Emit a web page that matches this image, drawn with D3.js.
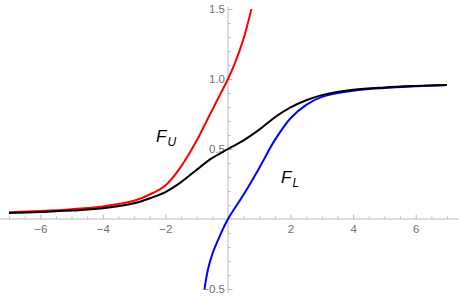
<!DOCTYPE html>
<html>
<head>
<meta charset="utf-8">
<script src="https://cdn.jsdelivr.net/npm/d3@7.9.0/dist/d3.min.js"></script>
<style>
  body { margin: 0; background: #fff; }
  svg { display: block; font-family: "Liberation Sans", Arial, sans-serif; }
  .tick text { fill: #707070; font-size: 11.5px; }
  .tick line { stroke: #b8b8b8; }
</style>
</head>
<body>
<svg width="459" height="300"></svg>
<script>
// values
const xsF = [-7, -6, -5, -4, -3, -2.5, -2, -1.5, -1, -0.5, 0, 0.5, 1, 1.5, 2, 2.5, 3, 4, 5, 6, 7];
const valsF = [0.043, 0.05, 0.06, 0.077, 0.112, 0.148, 0.192, 0.263, 0.352, 0.436, 0.5, 0.562, 0.638, 0.727, 0.797, 0.848, 0.885, 0.923, 0.94, 0.95, 0.957];

const xsU = [-7, -6, -5, -4, -3, -2.5, -2, -1.5, -1, -0.75, -0.5, -0.25, 0, 0.25, 0.5, 0.75];
const valsU = [0.048, 0.057, 0.07, 0.09, 0.13, 0.175, 0.24, 0.375, 0.56, 0.67, 0.78, 0.89, 1.0, 1.13, 1.29, 1.5];

const xsL = [-0.75, -0.65, -0.5, -0.25, 0, 0.5, 1, 1.5, 2, 2.5, 3, 4, 5, 6, 7];
const valsL = [-0.5, -0.37, -0.25, -0.115, 0, 0.175, 0.365, 0.565, 0.72, 0.815, 0.872, 0.916, 0.936, 0.948, 0.957];

const xMajor = [-6, -4, -2, 2, 4, 6];
const yMajor = [-0.5, 0.5, 1.0, 1.5];

const svg = d3.select("svg");
const x = d3.scaleLinear().domain([-7, 7]).range([9, 447]);
const y = d3.scaleLinear().domain([-0.5, 1.5]).range([289, 9]);

// axes lines
svg.append("line")
  .attr("x1", 0).attr("x2", 459)
  .attr("y1", y(0)).attr("y2", y(0))
  .attr("stroke", "#b8b8b8");
svg.append("line")
  .attr("x1", x(0)).attr("x2", x(0))
  .attr("y1", 7).attr("y2", 293)
  .attr("stroke", "#b8b8b8");

const xMinor = d3.range(-7, 7.01, 0.5).filter((v) => v !== 0 && !xMajor.includes(v));
const yMinor = d3.range(-0.5, 1.51, 0.1).map((v) => +v.toFixed(1))
  .filter((v) => v !== 0 && !yMajor.includes(v));

svg.append("g")
  .attr("transform", `translate(0,${y(0)})`)
  .call(d3.axisBottom(x).tickValues(xMinor).tickSize(-2.5).tickFormat(""))
  .call((g) => g.select(".domain").remove());
svg.append("g")
  .attr("transform", `translate(0,${y(0)})`)
  .call(d3.axisBottom(x).tickValues(xMajor).tickSize(-4.5).tickPadding(6))
  .call((g) => g.select(".domain").remove());

svg.append("g")
  .attr("transform", `translate(${x(0)},0)`)
  .call(d3.axisLeft(y).tickValues(yMinor).tickSize(-2.5).tickFormat(""))
  .call((g) => g.select(".domain").remove());
svg.append("g")
  .attr("transform", `translate(${x(0)},0)`)
  .call(d3.axisLeft(y).tickValues(yMajor).tickSize(-4.5).tickPadding(3).tickFormat(d3.format(".1f")))
  .call((g) => g.select(".domain").remove());

svg.append("clipPath").attr("id", "clip")
  .append("rect").attr("x", 0).attr("y", y(1.5)).attr("width", 459).attr("height", y(-0.5) - y(1.5));

const line = d3.line()
  .x((d) => x(d[0]))
  .y((d) => y(d[1]))
  .curve(d3.curveCatmullRom.alpha(0.5));

const plot = svg.append("g").attr("clip-path", "url(#clip)");
plot.append("path")
  .attr("d", line(d3.zip(xsU, valsU)))
  .attr("fill", "none").attr("stroke", "#ff0000").attr("stroke-width", 2);
plot.append("path")
  .attr("d", line(d3.zip(xsL, valsL)))
  .attr("fill", "none").attr("stroke", "#0000ff").attr("stroke-width", 2);
plot.append("path")
  .attr("d", line(d3.zip(xsF, valsF)))
  .attr("fill", "none").attr("stroke", "#000").attr("stroke-width", 2);

// labels
const lbl = (px, py, sub) => {
  const t = svg.append("text")
    .attr("x", px).attr("y", py)
    .attr("font-style", "italic")
    .attr("font-size", 17)
    .attr("fill", "#000");
  t.append("tspan").text("F");
  t.append("tspan").attr("font-size", 12).attr("dy", 4).attr("dx", 1).text(sub);
};
lbl(156, 142, "U");
lbl(281, 183, "L");
</script>
</body>
</html>
